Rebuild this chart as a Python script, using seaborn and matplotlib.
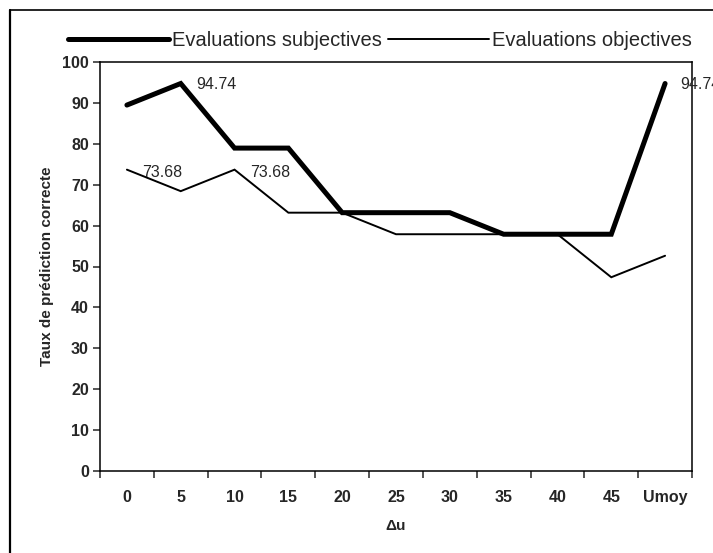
import matplotlib as mpl
import matplotlib.pyplot as plt
from matplotlib.lines import Line2D
import numpy as np
import pandas as pd
import seaborn as sns

sns.set_style("white")
mpl.rcParams["font.family"] = ["Liberation Sans", "DejaVu Sans"]

# data
du_labels = ["0", "5", "10", "15", "20", "25", "30", "35", "40", "45", "Umoy"]
subjectives = [89.47, 94.74, 78.95, 78.95, 63.16, 63.16, 63.16, 57.89, 57.89, 57.89, 94.74]
objectives = [73.68, 68.42, 73.68, 63.16, 63.16, 57.89, 57.89, 57.89, 57.89, 47.37, 52.63]
serie_names = ["Evaluations subjectives", "Evaluations objectives"]
labelled_subj = [1, 10]
labelled_obj = [0, 2]

df = pd.concat(
    [
        pd.DataFrame({"du": du_labels, "taux": subjectives, "serie": serie_names[0]}),
        pd.DataFrame({"du": du_labels, "taux": objectives, "serie": serie_names[1]}),
    ],
    ignore_index=True,
)

W, H = 713, 553
fig = plt.figure(figsize=(W / 100, H / 100), dpi=100)
ax = fig.add_axes([100 / W, 1 - 471 / H, 592 / W, 409 / H])

widths = {serie_names[0]: 3.6, serie_names[1]: 1.4}
sns.lineplot(
    data=df,
    x="du",
    y="taux",
    hue="serie",
    size="serie",
    sizes=widths,
    palette={s: "black" for s in serie_names},
    sort=False,
    legend=False,
    ax=ax,
)
for line in ax.get_lines():
    line.set_solid_joinstyle("miter")

# data labels
for i in labelled_subj:
    ax.annotate(f"{subjectives[i]:.2f}", xy=(i, subjectives[i]), xytext=(11, -1),
                textcoords="offset points", va="center", ha="left", fontsize=11.5,
                annotation_clip=False)
for i in labelled_obj:
    ax.annotate(f"{objectives[i]:.2f}", xy=(i, objectives[i]), xytext=(11, -2),
                textcoords="offset points", va="center", ha="left", fontsize=11.5,
                annotation_clip=False)

ax.set_xlim(-0.5, len(du_labels) - 0.5)
ax.set_ylim(0, 100)
ax.set_yticks(np.arange(0, 101, 10))
ax.set_xticks(range(len(du_labels)))
ax.set_xticklabels(du_labels)
ax.set_xticks(np.arange(-0.5, len(du_labels), 1), minor=True)
ax.tick_params(axis="x", which="major", length=0, pad=14, labelsize=11.5)
ax.tick_params(axis="x", which="minor", direction="out", length=5, width=1.1, bottom=True)
ax.tick_params(axis="y", direction="out", length=5, width=1.1, left=True, labelsize=11.5, pad=3)
for lab in ax.get_xticklabels() + ax.get_yticklabels():
    lab.set_fontweight("bold")

for sp in ax.spines.values():
    sp.set_visible(True)
    sp.set_color("black")
    sp.set_linewidth(1.1)

ax.set_xlabel("Δu", fontsize=11, fontweight="bold", labelpad=10)
ax.set_ylabel("Taux de prédiction correcte", fontsize=11, fontweight="bold", labelpad=6)

handles = [Line2D([], [], color="black", lw=widths[s]) for s in serie_names]
fig.legend(handles, serie_names, loc="center", bbox_to_anchor=(380 / W, 1 - 41 / H),
           ncol=2, frameon=False, fontsize=14.5, handlelength=5.0,
           handletextpad=0.15, columnspacing=0.3, borderpad=0)

# outer chart frame (cropped scan)
fig.add_artist(Line2D([10 / W, 10 / W], [-0.05, 1 - 10 / H], color="black", lw=1.6,
                      transform=fig.transFigure))
fig.add_artist(Line2D([10 / W, 1.05], [1 - 10 / H, 1 - 10 / H], color="black", lw=1.2,
                      transform=fig.transFigure))

fig.savefig("out.png", dpi=100)
